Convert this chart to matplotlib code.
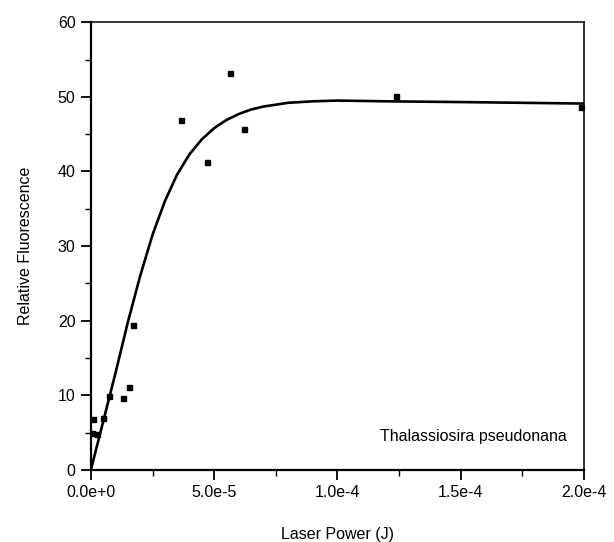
import numpy as np
import matplotlib
matplotlib.use("Agg")
import matplotlib.pyplot as plt
import matplotlib.ticker as ticker

# measured points (laser power in J, relative fluorescence)
power_pts = [0.8e-6, 0.4e-6, 2.5e-6, 4.9e-6, 7.3e-6, 13.0e-6, 15.4e-6, 17.0e-6,
             36.5e-6, 47.0e-6, 56.4e-6, 62.0e-6, 123.7e-6, 198.8e-6]
fluor_pts = [6.8, 5.0, 4.8, 7.0, 9.9, 9.6, 11.1, 19.4,
             46.9, 41.2, 53.2, 45.7, 50.1, 48.6]

# fitted curve
curve_x = [0, 5e-6, 10e-6, 15e-6, 20e-6, 25e-6, 30e-6, 35e-6, 40e-6,
           45e-6, 50e-6, 55e-6, 60e-6, 65e-6, 70e-6, 80e-6, 90e-6,
           100e-6, 120e-6, 150e-6, 200e-6]
curve_y = [0, 6.5, 13.0, 19.8, 26.0, 31.5, 36.0, 39.6, 42.3,
           44.3, 45.8, 46.9, 47.7, 48.3, 48.7, 49.2, 49.4,
           49.5, 49.4, 49.3, 49.1]

xticks = [0, 5e-5, 1e-4, 1.5e-4, 2e-4]
xtick_labels = ["0.0e+0", "5.0e-5", "1.0e-4", "1.5e-4", "2.0e-4"]

plt.rcParams.update({
    "font.family": ["Liberation Sans", "DejaVu Sans"],
    "font.size": 11.5,
})

fig = plt.figure(figsize=(6.14, 5.42), dpi=100)
ax = fig.add_axes([0.148, 0.133, 0.803, 0.826])

ax.plot(curve_x, curve_y, color="black", lw=1.9, solid_joinstyle="round")
ax.plot(power_pts, fluor_pts, ls="none", marker="s", ms=3.6, color="black")

ax.set_xlim(0, 2e-4)
ax.set_ylim(0, 60)
ax.set_xticks(xticks)
ax.set_xticklabels(xtick_labels)
ax.xaxis.set_minor_locator(ticker.MultipleLocator(2.5e-5))
ax.yaxis.set_major_locator(ticker.MultipleLocator(10))
ax.yaxis.set_minor_locator(ticker.MultipleLocator(5))
ax.tick_params(which="major", direction="out", length=7, width=1.3, pad=4)
ax.tick_params(which="minor", direction="out", length=4, width=1.0)
ax.tick_params(top=False, right=False)

for side in ["left", "bottom"]:
    ax.spines[side].set_linewidth(1.6)
for side in ["top", "right"]:
    ax.spines[side].set_linewidth(1.1)

ax.set_xlabel("Laser Power (J)", labelpad=19)
ax.set_ylabel("Relative Fluorescence", labelpad=18)

ax.text(0.965, 0.075, "Thalassiosira pseudonana", transform=ax.transAxes,
        ha="right", va="center", fontsize=11.5)

fig.savefig("out.png", dpi=100)
